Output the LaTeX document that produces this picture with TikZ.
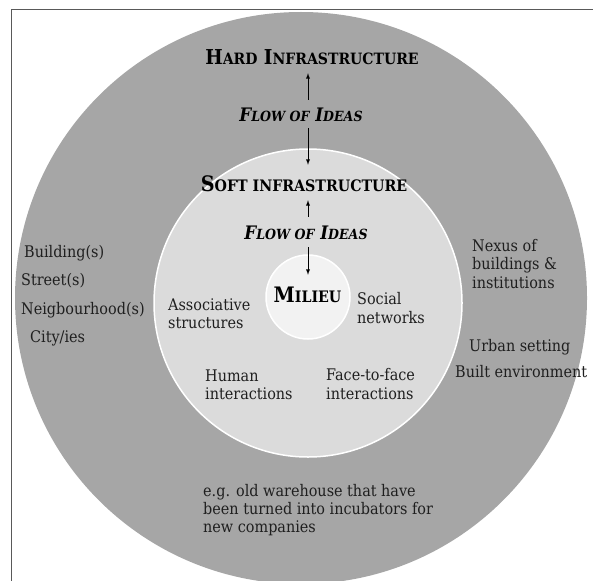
\documentclass[tikz,border=0pt]{standalone}
\usepackage{fontspec}
\setmainfont{DejaVu Serif Condensed}
\usepackage{tikz}
\usetikzlibrary{positioning}

\definecolor{outergray}{gray}{0.65}
\definecolor{midgray}{gray}{0.86}
\definecolor{innergray}{gray}{0.95}
\definecolor{framegray}{gray}{0.35}
\definecolor{inkgray}{gray}{0.12}

% first letter big, the rest in smaller capitals
\newcommand{\fsc}[2]{#1{\scfont #2}}

\begin{document}
\begin{tikzpicture}[x=1pt,y=-1pt]
            \tikzset{
                heading/.style={inner sep=0pt, text depth=0pt, anchor=base, text=black},
                hardlabel/.style={heading, text height=14pt,
                    font=\bfseries\fontsize{20.5}{21}\selectfont\def\scfont{\fontsize{15.6}{16}\selectfont}},
                softlabel/.style={heading, text height=15pt,
                    font=\bfseries\fontsize{21.3}{22}\selectfont\def\scfont{\fontsize{15.8}{16}\selectfont}},
                flowlabel/.style={heading, text height=14pt,
                    font=\bfseries\itshape\fontsize{18.6}{19}\selectfont\def\scfont{\fontsize{14}{15}\selectfont}},
                txt/.style={inner sep=0pt, align=left, text=inkgray, font=\fontsize{16}{18.3}\selectfont},
                flowarrow/.style={-latex, line width=0.9pt},
                ring/.style={draw=white, line width=1.5pt},
            }
            \useasboundingbox (0,0) rectangle (593,580);
            \clip (0,0) rectangle (593,580);
            \draw [framegray, line width=0.8pt] (11,590) -- (11,9) -- (600,9);
            \fill [outergray] (301,298) circle [radius=286pt];
            \draw [ring, fill=midgray] (308,303) circle [radius=154pt];
            \draw [ring, fill=innergray] (308,297) coordinate (c) circle [radius=42pt];

            \node [hardlabel] (hard) at (312,65) {\fsc{H}{ARD} \fsc{I}{NFRASTRUCTURE}};
            \node [flowlabel] (flowA) at (301,122) {\fsc{F}{LOW OF} \fsc{I}{DEAS}};
            \node [softlabel] (soft) at (304,191) {\fsc{S}{OFT INFRASTRUCTURE}};
            \node [flowlabel] (flowB) at (306,239) {\fsc{F}{LOW OF} \fsc{I}{DEAS}};
            \node [softlabel] (milieu) at (307.5,302) {\fsc{M}{ILIEU}};

            \draw [flowarrow, shorten <=8pt, shorten >=8pt] (flowA.north -| c) -- (hard.south -| c);
            \draw [flowarrow, shorten <=6pt, shorten >=11pt] (flowA.south -| c) -- (soft.north -| c);
            \draw [flowarrow, shorten <=8pt, shorten >=9pt] (flowB.north -| c) -- (soft.south -| c);
            \draw [flowarrow, shorten <=8pt, shorten >=12pt] (flowB.south -| c) -- (milieu.north -| c);

            \node [txt, anchor=west] (assoc) at (168,314) {Associative\\structures};
            \node [txt, anchor=west] (social) at (357,308) {Social\\networks};
            \node [txt, anchor=west] (human) at (205,385) {Human\\interactions};
            \node [txt, anchor=west] (face) at (326,384) {Face-to-face\\interactions};

            \node [txt, anchor=base west] (building) at (24,257.5) {Building(s)};
            \node [txt, anchor=base west] (street) at (21,285.5) {Street(s)};
            \node [txt, anchor=base west] (neig) at (21,314) {Neigbourhood(s)};
            \node [txt, anchor=base west] (city) at (30,342.5) {City/ies};

            \node [txt, anchor=west] (nexus) at (472,264) {Nexus of\\buildings \&\\institutions};
            \node [txt, anchor=base west] (urban) at (469,351.5) {Urban setting};
            \node [txt, anchor=base west] (built) at (455,377) {Built environment};

            \node [txt, anchor=west] (example) at (203,510) {e.g. old warehouse that have\\been turned into incubators for\\new companies};
\end{tikzpicture}
\end{document}
